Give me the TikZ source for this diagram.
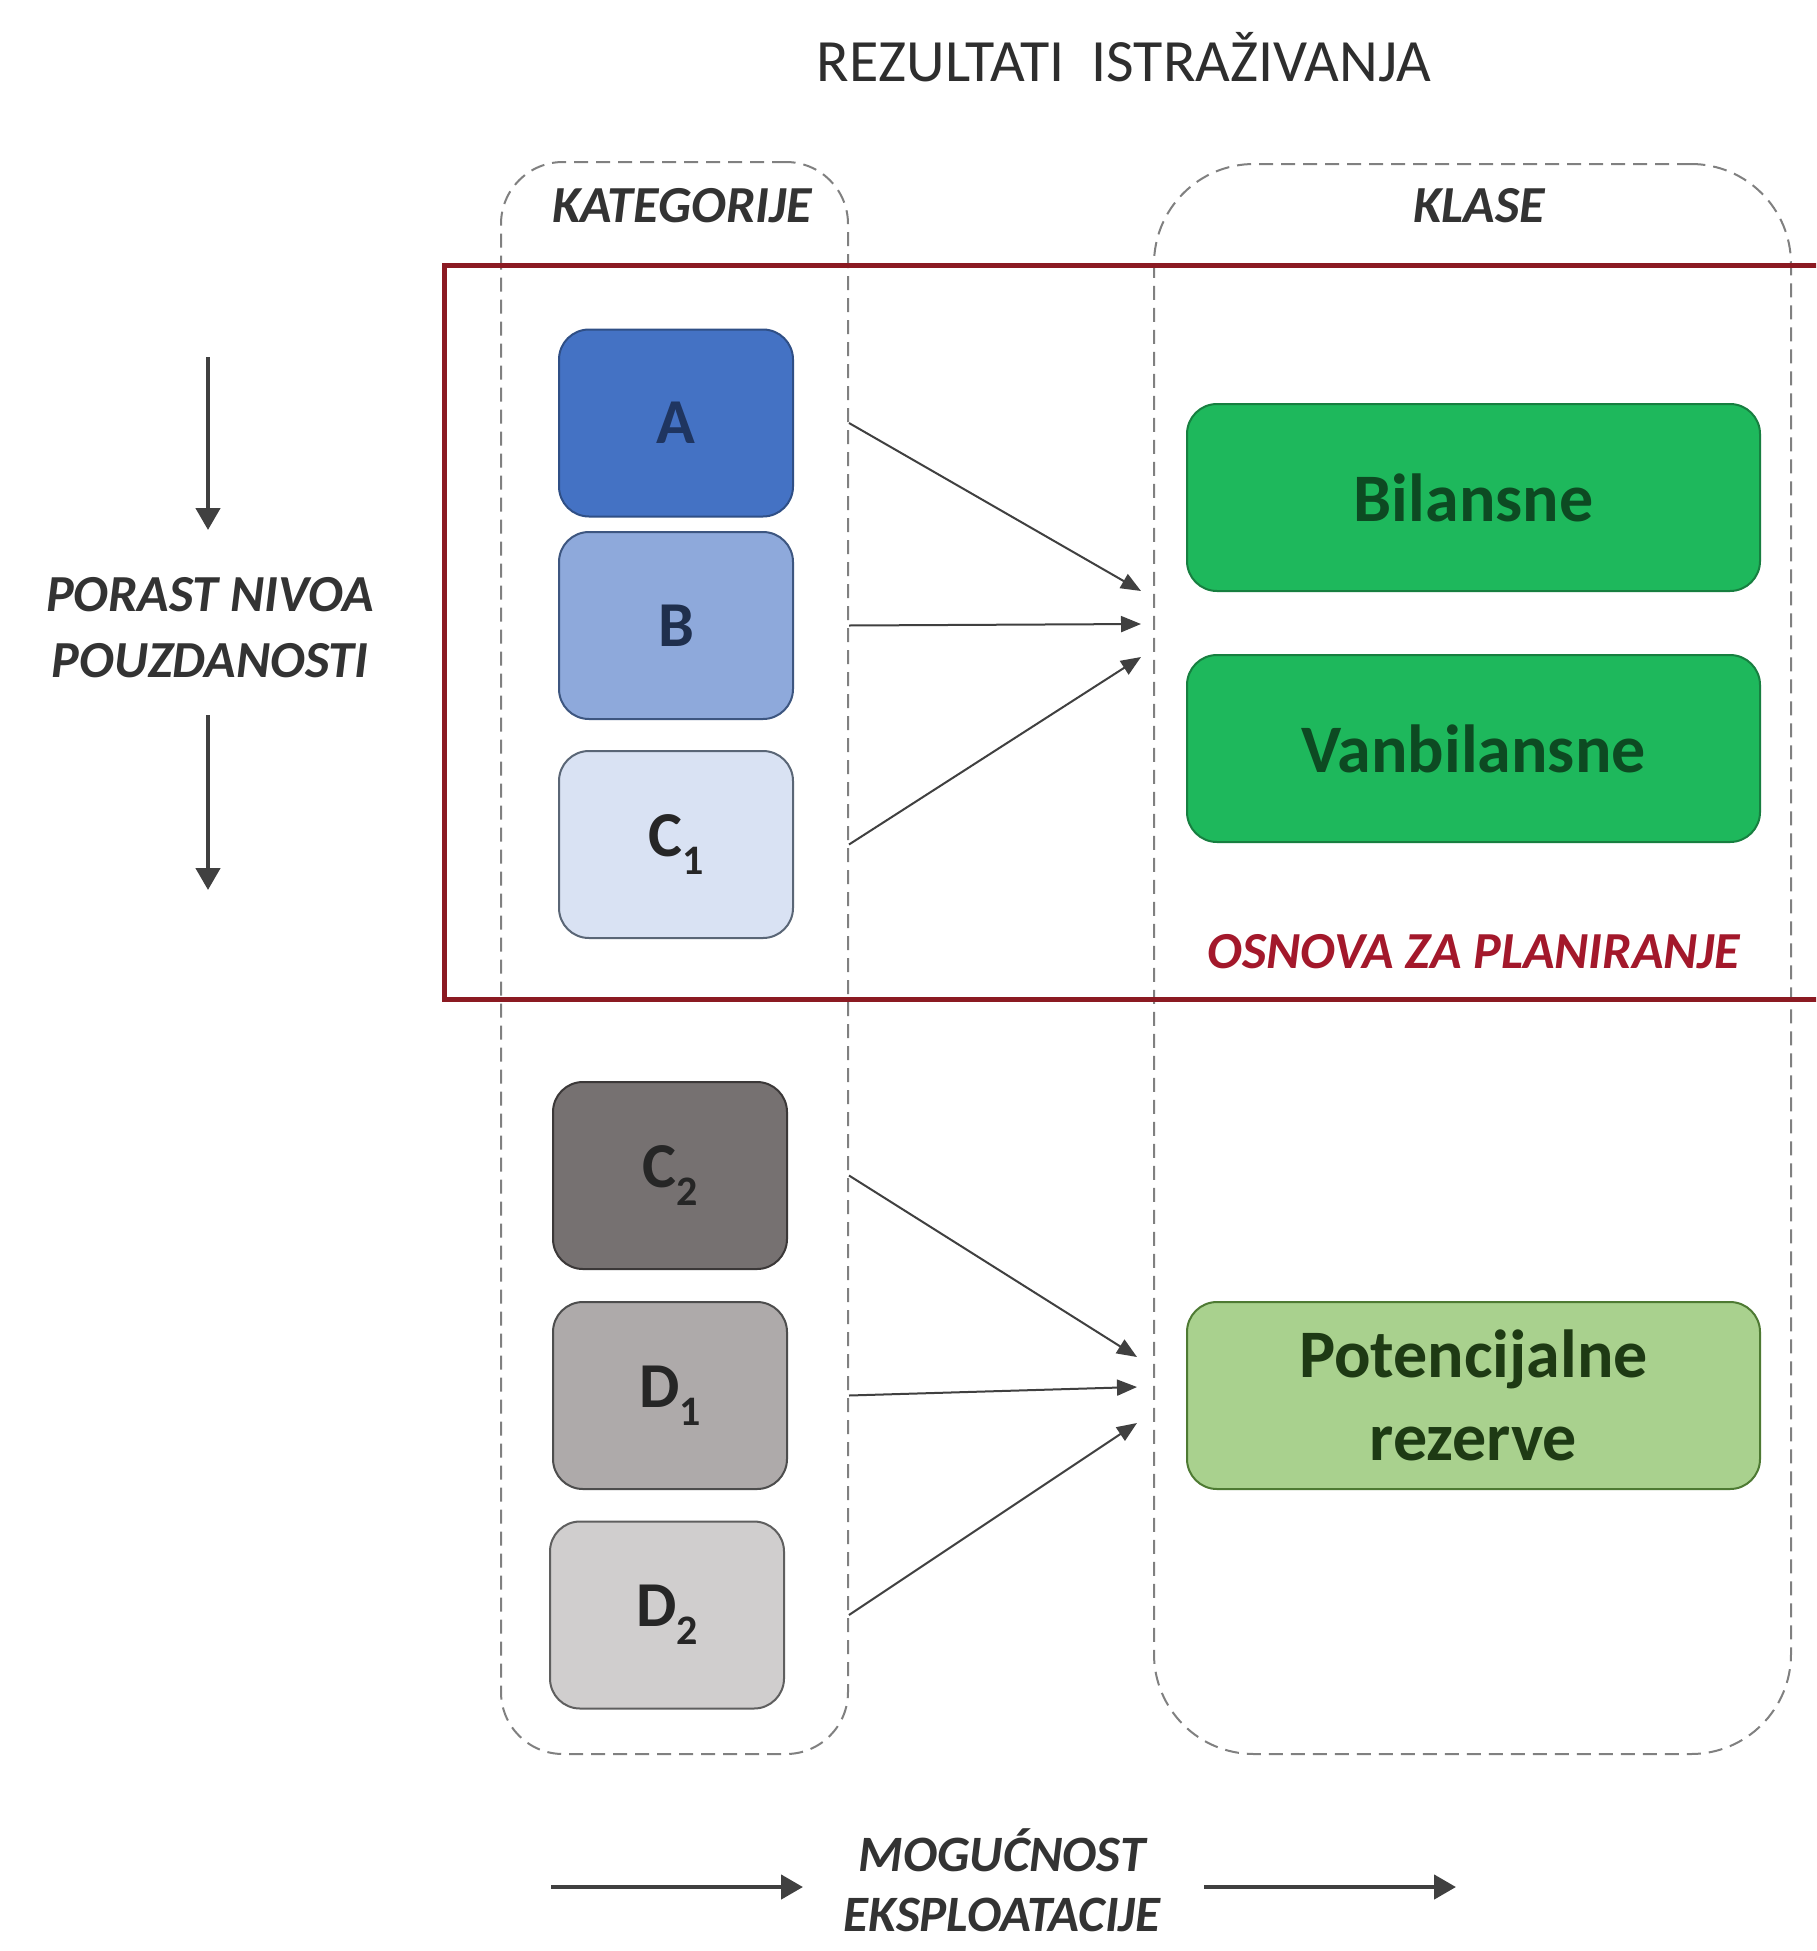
\documentclass[tikz,border=0pt]{standalone}
\usepackage{fontspec}
\setmainfont{Carlito}
\usetikzlibrary{arrows.meta}
\definecolor{titlegray}{HTML}{2E2E2E}
\definecolor{labelgray}{HTML}{333333}
\definecolor{dashgray}{HTML}{808080}
\definecolor{arrowgray}{HTML}{404040}
\definecolor{planred}{HTML}{8B1A22}
\definecolor{osnovared}{HTML}{A3182B}
\definecolor{afill}{HTML}{4472C4}\definecolor{aline}{HTML}{2F4F86}\definecolor{atext}{HTML}{1F3560}
\definecolor{bfill}{HTML}{8EA9DB}\definecolor{bline}{HTML}{3D5680}\definecolor{btext}{HTML}{1F2F4D}
\definecolor{cfill}{HTML}{D9E2F3}\definecolor{cline}{HTML}{5A6676}\definecolor{ctext}{HTML}{262626}
\definecolor{c2fill}{HTML}{767171}\definecolor{c2line}{HTML}{3B3838}
\definecolor{d1fill}{HTML}{AEAAAA}\definecolor{d1line}{HTML}{4D4D4D}
\definecolor{d2fill}{HTML}{D0CECE}\definecolor{d2line}{HTML}{5F5F5F}
\definecolor{gfill}{HTML}{1EB85C}\definecolor{gline}{HTML}{177F40}\definecolor{gtext}{HTML}{0D4A22}
\definecolor{pfill}{HTML}{A9D18E}\definecolor{pline}{HTML}{4E7A33}\definecolor{ptext}{HTML}{1E3A14}
\newcommand{\sbs}[1]{\raisebox{-0.28em}{\fontsize{42}{42}\selectfont #1}}
\begin{document}
\begin{tikzpicture}[x=1pt,y=-1pt,
  catbox/.style={draw, line width=2pt, rounded corners=30pt, minimum width=234pt,
    minimum height=187pt, inner sep=0pt, font=\fontsize{64}{64}\selectfont\bfseries},
  classbox/.style={draw, line width=2pt, rounded corners=30pt, minimum width=573pt,
    minimum height=187pt, inner sep=0pt, align=center,
    font=\fontsize{68}{83}\selectfont\bfseries},
  groupbox/.style={draw=dashgray, line width=2pt, dash pattern=on 14pt off 8pt, inner sep=0pt},
  lbl/.style={font=\fontsize{52}{66}\selectfont\bfseries\itshape, text=labelgray,
    inner sep=0pt, align=center},
  conn/.style={draw=arrowgray, line width=2pt, -{Triangle[length=20pt,width=16pt]}},
  bigarrow/.style={draw=arrowgray, line width=4.5pt, -{Triangle[length=22pt,width=24pt]}},
]
\useasboundingbox (0,0) rectangle (1816,1951);
\clip (0,0) rectangle (1816,1951);
\fill[white] (0,0) rectangle (1816,1951);

% title
\node[font=\fontsize{60}{60}\selectfont, text=titlegray, inner sep=0pt] (title) at (1124,57)
  {REZULTATI\hspace{0.45em}ISTRAŽIVANJA};

% group boxes
\node[groupbox, rounded corners=62pt, minimum width=347pt, minimum height=1592pt] (kat) at (674.5,958) {};
\node[groupbox, rounded corners=100pt, minimum width=637pt, minimum height=1590pt] (kla) at (1472.5,959) {};
\node[lbl] (katt) at (682,206) {KATEGORIJE};
\node[lbl] (klat) at (1479,206) {KLASE};

% planning frame
\draw[draw=planred, line width=5pt] (444,265) rectangle (1850,999);

% category boxes
\node[catbox, fill=afill, draw=aline, text=atext] (A) at (676,423) {A};
\node[catbox, fill=bfill, draw=bline, text=btext] (B) at (676,625.5) {B};
\node[catbox, fill=cfill, draw=cline, text=ctext] (C1) at (676,844.5) {C\sbs{1}};
\node[catbox, fill=c2fill, draw=c2line, text=ctext] (C2) at (670,1175.5) {C\sbs{2}};
\node[catbox, fill=d1fill, draw=d1line, text=ctext] (D1) at (670,1395.5) {D\sbs{1}};
\node[catbox, fill=d2fill, draw=d2line, text=ctext] (D2) at (667,1615) {D\sbs{2}};

% class boxes
\node[classbox, fill=gfill, draw=gline, text=gtext] (bil) at (1473.5,497.5) {Bilansne};
\node[classbox, fill=gfill, draw=gline, text=gtext] (vanb) at (1473.5,748.5) {Vanbilansne};
\node[classbox, fill=pfill, draw=pline, text=ptext] (pot) at (1473.5,1395.5) {Potencijalne\\rezerve};
\node[lbl, text=osnovared] (osn) at (1474,952) {OSNOVA ZA PLANIRANJE};

% arrow targets
\coordinate (tA) at (1141,591);
\coordinate (tB) at (1141,624);
\coordinate (tC) at (1141,657);
\coordinate (tC2) at (1137,1357);
\coordinate (tD1) at (1137,1387);
\coordinate (tD2) at (1137,1423);

\draw[conn] (kat.east |- A) -- (tA);
\draw[conn] (kat.east |- B) -- (tB);
\draw[conn] (kat.east |- C1) -- (tC);
\draw[conn] (kat.east |- C2) -- (tC2);
\draw[conn] (kat.east |- D1) -- (tD1);
\draw[conn] (kat.east |- D2) -- (tD2);

% left: reliability
\node[lbl] (por) at (210,628) {PORAST NIVOA\\POUZDANOSTI};
\coordinate (pa1) at (208,357);
\coordinate (pa2) at (208,530);
\coordinate (pb1) at (208,715);
\coordinate (pb2) at (208,890);
\draw[bigarrow] (pa1) -- (pa2);
\draw[bigarrow] (pb1) -- (pb2);

% bottom: exploitation
\node[lbl, font=\fontsize{51}{60}\selectfont\bfseries\itshape] (mog) at (1002,1880) {MOGUĆNOST\\EKSPLOATACIJE};
\coordinate (ma1) at (551,1887);
\coordinate (ma2) at (803,1887);
\coordinate (mb1) at (1204,1887);
\coordinate (mb2) at (1456,1887);
\draw[bigarrow] (ma1) -- (ma2);
\draw[bigarrow] (mb1) -- (mb2);
\end{tikzpicture}
\end{document}
